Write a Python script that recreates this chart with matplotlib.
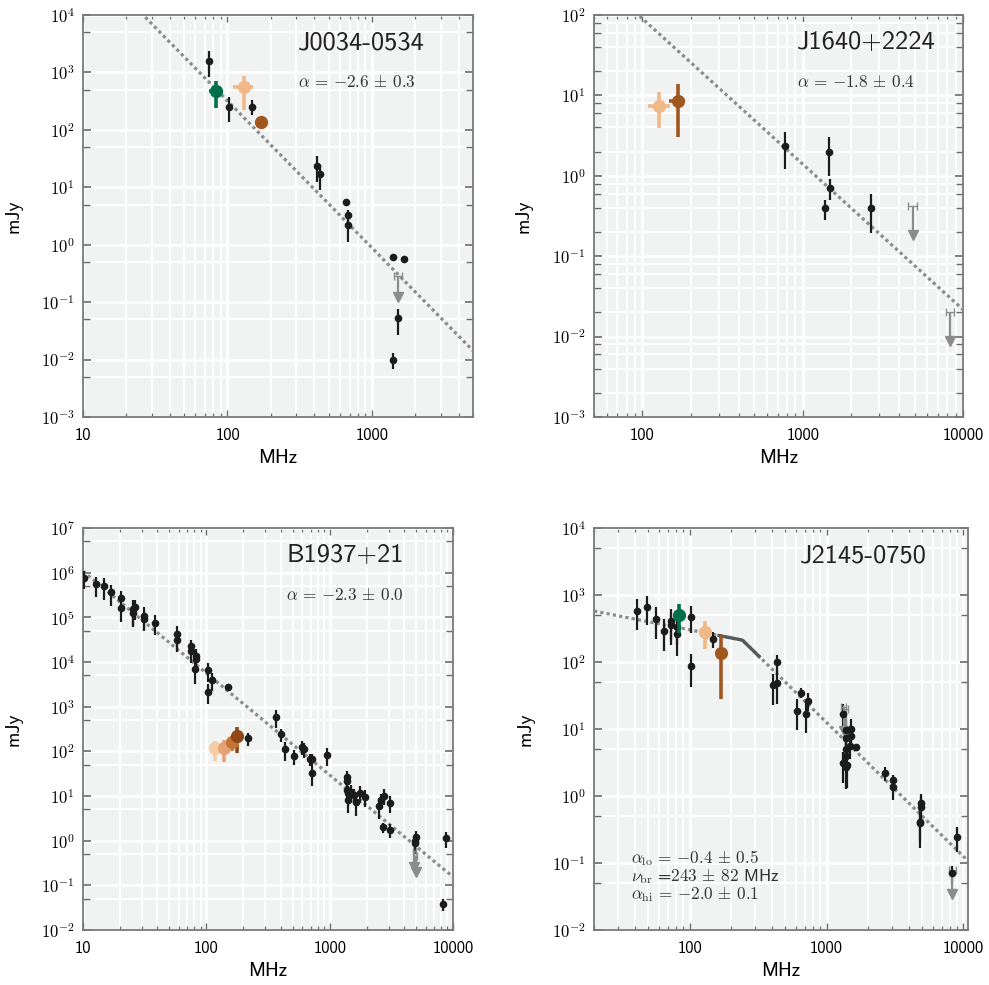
import numpy as np
import matplotlib
matplotlib.use("Agg")
import matplotlib.pyplot as plt
from matplotlib.ticker import LogLocator, FuncFormatter, NullFormatter

plt.rcParams['font.family'] = 'cmss10'
plt.rcParams['mathtext.fontset'] = 'cm'
plt.rcParams['axes.unicode_minus'] = False

# ---- colours ----
black = '#1c1c1c'
grey = '#8c8c8c'
green = '#00704a'
peach = '#f0b886'
brown = '#a0561f'
b1937_cols = ['#f6cba6', '#e4a274', '#c47634', '#8f4715']

# ---- J0034-0534 ----
j0034_freq = [75, 103, 148, 413, 435, 658, 687, 687, 1397, 1663, 1518, 1397]
j0034_flux = [1600, 253, 253, 23.8, 16.8, 5.5, 3.3, 2.2, 0.60, 0.56, 0.052, 0.0099]
j0034_err = [780, 115, 75, 11.5, 8, 0.5, 0.8, 1.1, 0.05, 0.04, 0.025, 0.003]
j0034_col_freq = [83.5, 130, 171]
j0034_col_ferr = [9, 20, 8]
j0034_col_flux = [480, 550, 139]
j0034_col_err = [240, 330, 10]
j0034_col_c = [green, peach, brown]
j0034_lim_freq = [1518]
j0034_lim_ferr = [90]
j0034_lim_flux = [0.28]
j0034_alpha, j0034_s1000 = -2.56, 0.88

# ---- J1640+2224 ----
j1640_freq = [772, 1459, 1489, 1386, 2685]
j1640_flux = [2.37, 2.0, 0.70, 0.395, 0.395]
j1640_err = [1.17, 1.0, 0.2, 0.11, 0.2]
j1640_col_freq = [128, 166]
j1640_col_ferr = [20, 20]
j1640_col_flux = [7.4, 8.5]
j1640_col_err = [3.5, 5.5]
j1640_col_c = [peach, brown]
j1640_lim_freq = [4850, 8300]
j1640_lim_ferr = [300, 500]
j1640_lim_flux = [0.42, 0.020]
j1640_alpha, j1640_s1000 = -1.81, 1.40

# ---- B1937+21 ----
b1937_freq = [10.1, 12.8, 14.8, 17.0, 20.2, 20.2, 25.5, 26.3, 25.5, 31.1, 31.1, 38.7,
              58.1, 58.1, 74.5, 74.5, 81.8, 83.2, 80.7, 102.4, 102.4, 111.7, 148.6,
              216, 365, 401, 432, 517, 601, 620, 693, 724, 724, 953,
              1377, 1390, 1377, 1420, 1486, 1400, 1561, 1630, 1746, 1941,
              2522, 2619, 2770, 3098, 2687, 3098, 4887, 4980, 4887, 8770, 8300]
b1937_flux = [7.5e5, 5.5e5, 5.0e5, 3.6e5, 2.66e5, 1.58e5, 1.51e5, 1.67e5, 1.23e5, 1.09e5, 9.2e4, 7.6e4,
              4.16e4, 3.1e4, 2.3e4, 1.76e4, 1.39e4, 1.17e4, 6970, 6600, 2170, 3950, 2710,
              195, 587, 240, 111, 79, 127, 111, 66, 66, 32, 83,
              27, 21.7, 13.6, 11.9, 12.5, 8.1, 10.5, 7.5, 11.9, 9.7,
              6.0, 8.1, 10.2, 7.1, 1.99, 1.73, 1.0, 1.23, 0.9, 1.13, 0.038]
b1937_err = [3.2e5, 2.6e5, 2.5e5, 1.8e5, 1.2e5, 0.8e5, 0.9e5, 0.8e5, 0.6e5, 0.6e5, 0.4e5, 3.5e4,
             2.2e4, 1.4e4, 0.8e4, 0.8e4, 0.6e4, 0.5e4, 3800, 3000, 1000, 1700, 500,
             60, 250, 80, 50, 30, 45, 40, 20, 20, 15, 35,
             10, 8, 6, 5, 5, 4, 4, 4, 5, 4,
             3, 3, 4, 3, 0.5, 0.6, 0.4, 0.4, 0.4, 0.45, 0.012]
b1937_col_freq = [117.5, 139, 160, 178]
b1937_col_ferr = [4, 4, 4, 4]
b1937_col_flux = [117, 117, 164, 220]
b1937_col_err = [55, 60, 60, 130]
b1937_lim_freq = [4850, 5000]
b1937_lim_ferr = [150, 150]
b1937_lim_flux = [0.6, 0.45]
b1937_alpha, b1937_s1000 = -2.28, 29.5

# ---- J2145-0750 ----
j2145_freq = [41.2, 49, 57, 64.9, 72.6, 73, 80.7, 80.7, 103, 103, 147,
              407, 431, 435, 610, 656, 702, 726,
              1324, 1376, 1390, 1376, 1507, 1507, 1495, 1648, 1376, 1324, 1376, 1400,
              2673, 3076, 3076, 4900, 4900, 4820, 4820, 8930, 8315]
j2145_flux = [583, 655, 439, 294, 414, 357, 337, 262, 475, 88, 220,
              45, 49, 99, 18.8, 35, 16.7, 26.5,
              16.6, 9.7, 7.3, 5.1, 10, 7.9, 5.6, 5.3, 3.95, 3.07, 2.68, 2.9,
              2.18, 1.73, 1.38, 0.78, 0.69, 0.41, 0.39, 0.247, 0.070]
j2145_err = [280, 300, 220, 150, 200, 180, 160, 140, 200, 45, 60,
             22, 25, 30, 9, 6, 8, 8,
             7, 4, 3, 2, 4, 3, 2, 0.6, 1.5, 1.5, 1.4, 1.6,
             0.5, 0.3, 0.5, 0.3, 0.3, 0.2, 0.22, 0.1, 0.02]
j2145_col_freq = [83, 129, 168]
j2145_col_ferr = [5, 12, 8]
j2145_col_flux = [502, 284, 138]
j2145_col_err = [230, 130, 110]
j2145_col_c = [green, peach, brown]
j2145_lim_freq = [1330, 1385, 8315]
j2145_lim_ferr = [60, 60, 500]
j2145_lim_flux = [21.5, 20, 0.079]
j2145_alpha_lo, j2145_alpha_hi = -0.4, -2.0
j2145_nu_br, j2145_nu_br_err, j2145_s_br = 243, 82, 212


def style_axes(ax, xlim, ylim, ysubs):
    ax.set_xscale('log')
    ax.set_yscale('log')
    ax.set_xlim(*xlim)
    ax.set_ylim(*ylim)
    ax.set_facecolor('#f1f2f2')
    ax.xaxis.set_major_locator(LogLocator(base=10, numticks=20))
    ax.xaxis.set_minor_locator(LogLocator(base=10, subs=np.arange(2, 10), numticks=20))
    ax.yaxis.set_major_locator(LogLocator(base=10, numticks=20))
    ax.yaxis.set_minor_locator(LogLocator(base=10, subs=ysubs, numticks=20))
    ax.xaxis.set_major_formatter(FuncFormatter(lambda v, p: '%d' % round(v)))
    ax.xaxis.set_minor_formatter(NullFormatter())
    ax.yaxis.set_major_formatter(FuncFormatter(lambda v, p: r'$10^{%d}$' % round(np.log10(v))))
    ax.yaxis.set_minor_formatter(NullFormatter())
    ax.grid(which='major', color='white', lw=1.9)
    ax.grid(which='minor', color='white', lw=1.5)
    ax.set_axisbelow(True)
    for sp in ax.spines.values():
        sp.set_color('#7a7a7a')
        sp.set_linewidth(1.3)
    ax.tick_params(which='both', direction='in', top=True, right=True, color='#6a6a6a')
    ax.tick_params(axis='x', which='major', length=5, width=1.0, labelsize=12, pad=8)
    ax.tick_params(axis='x', which='minor', length=3, width=0.9)
    ax.tick_params(axis='y', which='major', length=6, width=1.2, labelsize=12, pad=6)
    ax.tick_params(axis='y', which='minor', length=5, width=1.0)
    ax.set_xlabel('MHz', fontsize=14)
    ax.set_ylabel('mJy', fontsize=14)


def plot_points(ax, freq, flux, err):
    ax.errorbar(freq, flux, yerr=err, fmt='o', color=black, ms=4.5,
                elinewidth=1.6, capsize=0, zorder=4)


def plot_colored(ax, freq, ferr, flux, err, cols):
    for f, fe, s, se, c in zip(freq, ferr, flux, err, cols):
        ax.errorbar([f], [s], xerr=[fe], yerr=[se], fmt='o', color=c, ms=8.5,
                    elinewidth=2.6, capsize=0, zorder=5)


def plot_limits(ax, freq, ferr, flux):
    freq = np.array(freq, dtype=float)
    flux = np.array(flux, dtype=float)
    tip = flux * 10 ** -0.36
    ax.errorbar(freq, flux, xerr=ferr, fmt='none', ecolor=grey, elinewidth=1.0,
                capsize=3, capthick=1.0, zorder=4)
    ax.vlines(freq, tip, flux, color=grey, lw=1.6, zorder=4)
    ax.plot(freq, tip, 'v', color=grey, ms=7, zorder=4)


def fit_line(ax, alpha, s1000, xlim):
    f = np.logspace(np.log10(xlim[0]), np.log10(xlim[1]), 200)
    ax.plot(f, s1000 * (f / 1000.0) ** alpha, color=grey, ls=(0, (1, 1)), lw=2.3, zorder=3)


def add_labels(ax, name, alpha_txt=None):
    ax.text(0.55, 0.915, name, transform=ax.transAxes, fontsize=19, color='#222222',
            ha='left', va='baseline')
    if alpha_txt is not None:
        ax.text(0.55, 0.82, alpha_txt, transform=ax.transAxes, fontsize=12.3,
                color='#333333', ha='left', va='baseline')


fig = plt.figure(figsize=(9.89, 9.85), dpi=100)
W, H = 989.0, 985.0


def make_axes(l, t, r, b):
    return fig.add_axes([l / W, 1 - b / H, (r - l) / W, (b - t) / H])


ax1 = make_axes(83, 15, 473, 417)
ax2 = make_axes(594, 15, 963, 417)
ax3 = make_axes(83, 528, 453, 930)
ax4 = make_axes(594, 528, 968, 930)

# panel 1
xl1 = (10, 5000)
style_axes(ax1, xl1, (1e-3, 1e4), [5])
fit_line(ax1, j0034_alpha, j0034_s1000, xl1)
plot_points(ax1, j0034_freq, j0034_flux, j0034_err)
plot_colored(ax1, j0034_col_freq, j0034_col_ferr, j0034_col_flux, j0034_col_err, j0034_col_c)
plot_limits(ax1, j0034_lim_freq, j0034_lim_ferr, j0034_lim_flux)
add_labels(ax1, 'J0034-0534', r'$\alpha\,=\,{-}2.6\,\pm\,0.3$')
ax1.yaxis.set_label_coords((23 - 83) / 390.0, 0.5)

# panel 2
xl2 = (50, 10000)
style_axes(ax2, xl2, (1e-3, 1e2), [2, 4, 6, 8])
fit_line(ax2, j1640_alpha, j1640_s1000, xl2)
plot_points(ax2, j1640_freq, j1640_flux, j1640_err)
plot_colored(ax2, j1640_col_freq, j1640_col_ferr, j1640_col_flux, j1640_col_err, j1640_col_c)
plot_limits(ax2, j1640_lim_freq, j1640_lim_ferr, j1640_lim_flux)
add_labels(ax2, 'J1640+2224', r'$\alpha\,=\,{-}1.8\,\pm\,0.4$')
ax2.yaxis.set_label_coords((533 - 594) / 369.0, 0.5)

# panel 3
xl3 = (10, 10000)
style_axes(ax3, xl3, (1e-2, 1e7), [5])
fit_line(ax3, b1937_alpha, b1937_s1000, xl3)
plot_points(ax3, b1937_freq, b1937_flux, b1937_err)
plot_colored(ax3, b1937_col_freq, b1937_col_ferr, b1937_col_flux, b1937_col_err, b1937_cols)
plot_limits(ax3, b1937_lim_freq, b1937_lim_ferr, b1937_lim_flux)
add_labels(ax3, 'B1937+21', r'$\alpha\,=\,{-}2.3\,\pm\,0.0$')
ax3.yaxis.set_label_coords((23 - 83) / 370.0, 0.5)

# panel 4: broken power law
xl4 = (20, 10800)
style_axes(ax4, xl4, (1e-2, 1e4), [5])
f4 = np.logspace(np.log10(xl4[0]), np.log10(xl4[1]), 300)
bpl = np.where(f4 < j2145_nu_br,
               j2145_s_br * (f4 / j2145_nu_br) ** j2145_alpha_lo,
               j2145_s_br * (f4 / j2145_nu_br) ** j2145_alpha_hi)
ax4.plot(f4, bpl, color=grey, ls=(0, (1, 1)), lw=2.3, zorder=3)
inner = (f4 > j2145_nu_br - j2145_nu_br_err) & (f4 < j2145_nu_br + j2145_nu_br_err)
ax4.plot(f4[inner], bpl[inner], color='#555a5a', lw=2.4, zorder=3)
plot_points(ax4, j2145_freq, j2145_flux, j2145_err)
plot_colored(ax4, j2145_col_freq, j2145_col_ferr, j2145_col_flux, j2145_col_err, j2145_col_c)
plot_limits(ax4, j2145_lim_freq, j2145_lim_ferr, j2145_lim_flux)
add_labels(ax4, 'J2145-0750')
ax4.yaxis.set_label_coords((535 - 594) / 374.0, 0.5)
ax4.text(0.10, 0.167, r'$\alpha_{\rm lo}\,=\,{-}0.4\,\pm\,0.5$', transform=ax4.transAxes,
         fontsize=12.3, color='#333333', va='baseline')
ax4.text(0.10, 0.121, r'$\nu_{\rm br}$ =$243\,\pm\,82$ MHz', transform=ax4.transAxes,
         fontsize=12.3, color='#333333', va='baseline')
ax4.text(0.10, 0.077, r'$\alpha_{\rm hi}\,=\,{-}2.0\,\pm\,0.1$', transform=ax4.transAxes,
         fontsize=12.3, color='#333333', va='baseline')

fig.savefig('out.png', dpi=100, facecolor='white')
